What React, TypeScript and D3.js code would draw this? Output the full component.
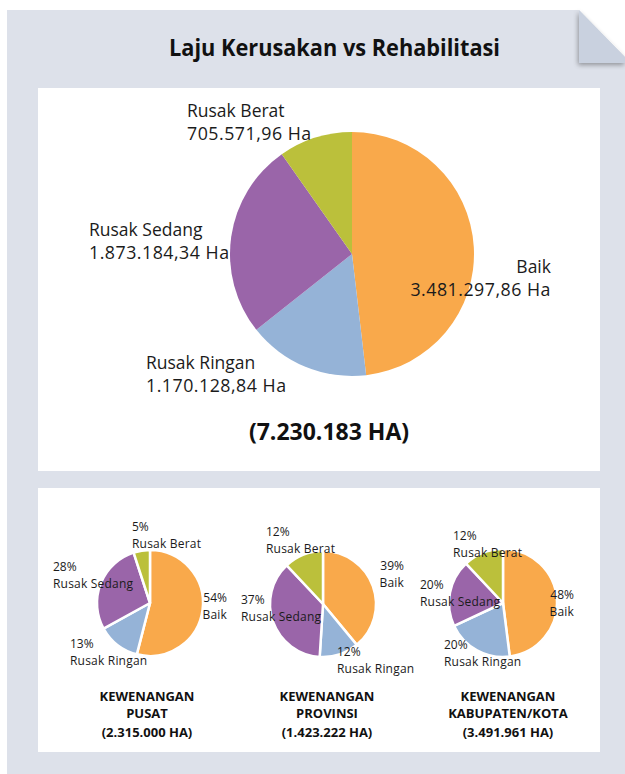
import React from "react";
import * as d3 from "d3";

// ---- data ----
const categories = ["Baik", "Rusak Ringan", "Rusak Sedang", "Rusak Berat"];
const totalValues = [3481297.86, 1170128.84, 1873184.34, 705571.96];
const totalValueLabels = ["3.481.297,86 Ha", "1.170.128,84 Ha", "1.873.184,34 Ha", "705.571,96 Ha"];
const totalLabel = "(7.230.183 HA)";
const chartTitle = "Laju Kerusakan vs Rehabilitasi";

const pusatPct = [54, 13, 28, 5];
const provinsiPct = [39, 12, 37, 12];
const kabKotaPct = [48, 20, 20, 12];
const groupNames = ["PUSAT", "PROVINSI", "KABUPATEN/KOTA"];
const groupTotals = ["(2.315.000 HA)", "(1.423.222 HA)", "(3.491.961 HA)"];

const colors = ["#f9a94b", "#95b3d7", "#9a65a9", "#bbc03b"];

const FONT = "'Open Sans', 'Noto Sans', sans-serif";
const TXT = "#1b1b1b";

type LabelPos = { x: number; y: number; anchor: "start" | "end" | "middle" };

// label placements (layout), in category order
const bigLabelPos: LabelPos[] = [
  { x: 551, y: 273, anchor: "end" },
  { x: 146, y: 369, anchor: "start" },
  { x: 89, y: 236, anchor: "start" },
  { x: 187, y: 117, anchor: "start" },
];

const smallGroups = [
  {
    pct: pusatPct,
    cx: 150, cy: 603, r: 53, tx: 147,
    pos: [
      { x: 227, y: 602, anchor: "end" },
      { x: 70, y: 648, anchor: "start" },
      { x: 53, y: 571, anchor: "start" },
      { x: 132, y: 531, anchor: "start" },
    ] as LabelPos[],
  },
  {
    pct: provinsiPct,
    cx: 323, cy: 604, r: 53, tx: 327,
    pos: [
      { x: 404, y: 570, anchor: "end" },
      { x: 337, y: 656, anchor: "start" },
      { x: 241, y: 604, anchor: "start" },
      { x: 266, y: 536, anchor: "start" },
    ] as LabelPos[],
  },
  {
    pct: kabKotaPct,
    cx: 503, cy: 603, r: 54, tx: 508,
    pos: [
      { x: 574, y: 599, anchor: "end" },
      { x: 444, y: 649, anchor: "start" },
      { x: 420, y: 589, anchor: "start" },
      { x: 453, y: 540, anchor: "start" },
    ] as LabelPos[],
  },
];

export default function App() {
  const pie = d3.pie<number>().sort(null).value((d) => d);
  const bigArcs = pie(totalValues);
  const bigArc = d3.arc<d3.PieArcDatum<number>>().innerRadius(0).outerRadius(122);

  return (
    <svg width={625} height={774} style={{ position: "absolute", left: 0, top: 0, display: "block" }}>
      <defs>
        <filter id="foldShadow" x="-50%" y="-50%" width="200%" height="200%">
          <feGaussianBlur in="SourceAlpha" stdDeviation="2.5" />
          <feOffset dx="-1.5" dy="1.5" result="b" />
          <feComponentTransfer>
            <feFuncA type="linear" slope="0.35" />
          </feComponentTransfer>
          <feMerge>
            <feMergeNode />
            <feMergeNode in="SourceGraphic" />
          </feMerge>
        </filter>
      </defs>
      <rect x={0} y={0} width={625} height={774} fill="#ffffff" />
      {/* panel with folded corner */}
      <path d="M7,10 L579,10 L625,57 L625,774 L7,774 Z" fill="#dde1ea" />
      <path d="M579,10 L579,63 L625,63 L625,57 Z" fill="#c9d1df" filter="url(#foldShadow)" />

      <text
        x={334.5}
        y={56}
        textAnchor="middle"
        fontFamily={FONT}
        fontWeight={700}
        fontSize={24}
        fill="#111"
        textLength={331}
        lengthAdjust="spacingAndGlyphs"
      >
        {chartTitle}
      </text>

      {/* white boxes */}
      <rect x={38} y={88} width={562} height={383} fill="#ffffff" />
      <rect x={38} y={488} width={562} height={264} fill="#ffffff" />

      {/* big pie */}
      <g transform="translate(352,254)">
        {bigArcs.map((a, i) => (
          <path key={i} d={bigArc(a) || ""} fill={colors[i]} />
        ))}
      </g>
      {categories.map((c, i) => {
        const p = bigLabelPos[i];
        return (
          <g key={c} fontFamily={FONT} fill={TXT}>
            <text x={p.x} y={p.y} fontSize={17.5} textAnchor={p.anchor}>{c}</text>
            <text x={p.x} y={p.y + 23} fontSize={17.8} textAnchor={p.anchor} letterSpacing={0.5}>
              {totalValueLabels[i]}
            </text>
          </g>
        );
      })}
      <text x={329} y={440} textAnchor="middle" fontFamily={FONT} fontWeight={700} fontSize={23} fill="#111">
        {totalLabel}
      </text>

      {/* small pies */}
      {smallGroups.map((g, gi) => {
        const arcs = pie(g.pct);
        const arc = d3.arc<d3.PieArcDatum<number>>().innerRadius(0).outerRadius(g.r);
        return (
          <g key={gi}>
            <g transform={`translate(${g.cx},${g.cy})`}>
              {arcs.map((a, i) => (
                <path key={i} d={arc(a) || ""} fill={colors[i]} stroke="#ffffff" strokeWidth={2.5} strokeLinejoin="round" />
              ))}
            </g>
            {categories.map((c, i) => {
              const p = g.pos[i];
              return (
                <g key={c} fontFamily={FONT} fontSize={12} fill={TXT}>
                  <text x={p.x} y={p.y} textAnchor={p.anchor}>{`${g.pct[i]}%`}</text>
                  <text x={p.x} y={p.y + 16.5} textAnchor={p.anchor} letterSpacing={0.2}>{c}</text>
                </g>
              );
            })}
            <g fontFamily={FONT} fontWeight={700} fontSize={13} fill="#111" textAnchor="middle">
              <text x={g.tx} y={701}>KEWENANGAN</text>
              <text x={g.tx} y={718}>{groupNames[gi]}</text>
              <text x={g.tx} y={737}>{groupTotals[gi]}</text>
            </g>
          </g>
        );
      })}
    </svg>
  );
}
